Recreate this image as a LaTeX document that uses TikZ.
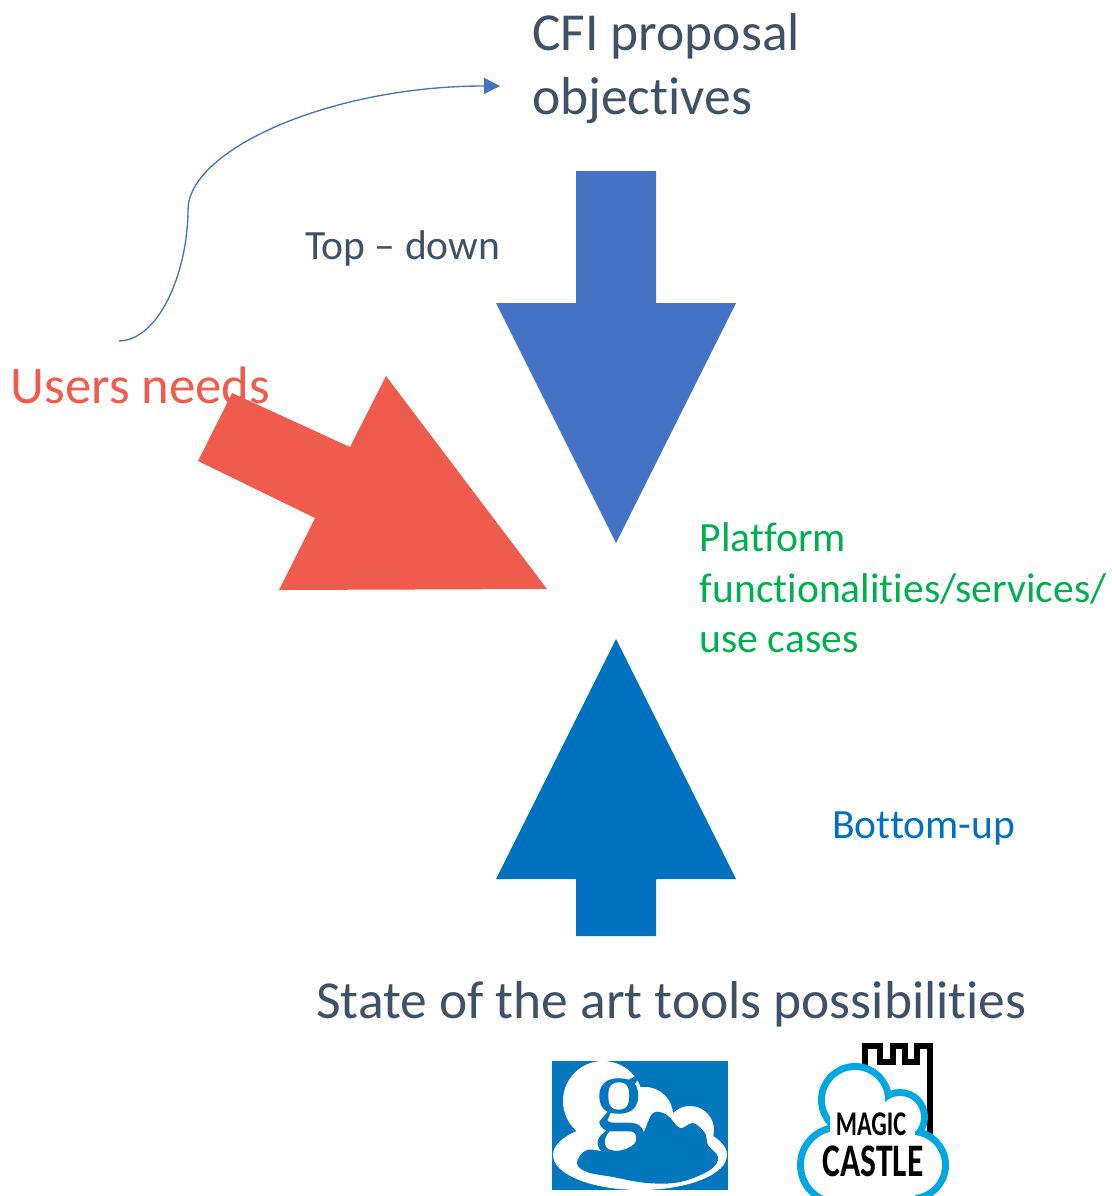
\documentclass[tikz,border=0pt]{standalone}
\usepackage{fontspec}
\setmainfont{Carlito}[Ligatures=CommonOff]
\newfontfamily\gfont{Liberation Serif}
\usetikzlibrary{arrows.meta}
\definecolor{slate}{HTML}{3F5166}
\definecolor{topblue}{HTML}{4472C4}
\definecolor{lowblue}{HTML}{0070C0}
\definecolor{salmon}{HTML}{EF5B4C}
\definecolor{leaf}{HTML}{00B050}
\definecolor{globus}{HTML}{0277BD}
\definecolor{sky}{HTML}{00A7E1}
\begin{document}
\begin{tikzpicture}[x=0.75pt, y=-0.75pt,
    main/.style = {inner sep=0pt, anchor=west, align=left, text=slate},
    big/.style = {font=\fontsize{40.1}{48}\selectfont},
    mid/.style = {font=\fontsize{31.2}{38}\selectfont}]
    \useasboundingbox (0,0) rectangle (1112,1196);
    \node[main, big] (cfi) at (532,69) {CFI proposal\\objectives};
    \node[main, mid] (top) at (305,248) {Top -- down};
    \node[main, big, text=salmon, font=\fontsize{39.6}{48}\selectfont] (users) at (10.5,385) {Users needs};
    \node[main, mid, text=leaf] (platform) at (699.5,588) {Platform\\functionalities/services/\\use cases};
    \node[main, mid, text=lowblue] (bottom) at (832,828) {Bottom-up};
    \node[main, big] (state) at (316,1004) {State of the art tools possibilities};
    % block arrows
    \fill[topblue] (576,171) -- (656,171) -- (656,303) -- (736,303) -- (616,543) -- (496,303) -- (576,303) -- cycle;
    \fill[lowblue] (576,936) -- (656,936) -- (656,879) -- (736,879) -- (616,639) -- (496,879) -- (576,879) -- cycle;
    \fill[salmon] (232,393) -- (350,447) -- (386,376) -- (547,589) -- (279,590) -- (315,518) -- (198,461) -- cycle;
    % curved connector
    \coordinate (a) at (119,341);
    \coordinate (b) at (188,210);
    \coordinate (c) at (500,86);
    \draw[topblue, line width=1pt, -{Triangle[length=12pt, width=12pt]}] (a) .. controls (160,340) and (188,270) .. (b) .. controls (188,150) and (330,86) .. (c);
    % globus logo
    \fill[globus] (552,1061) rectangle (728,1190);
    \begin{scope}
        \clip (552,1061) rectangle (728,1190);
        \fill[white] (603,1101) circle (40) (645,1115) circle (28) (690,1130) circle (24) (640,1155) ellipse (87 and 35);
        \fill[globus] plot[smooth cycle, tension=0.6] coordinates {(577,1163) (587,1150) (610,1152) (630,1147) (643,1133) (653,1113) (667,1115) (680,1128) (693,1123) (705,1133) (708,1145) (718,1157) (710,1170) (680,1182) (647,1183) (613,1177) (587,1172)};
    \end{scope}
    \node[inner sep=0pt, text=globus, font=\gfont\fontsize{84}{84}\selectfont, xscale=0.95] (g) at (620,1115) {g};
    % magic castle logo
    \draw[black, line width=4pt] (865,1075) -- (865,1046) -- (880,1046) -- (880,1062) -- (893,1062) -- (893,1046) -- (905,1046) -- (905,1062) -- (917,1062) -- (917,1046) -- (930,1046) -- (930,1135);
    \begin{scope}
        \clip (790,1040) rectangle (960,1196);
        \foreach \cx/\cy/\r in {855/1100/30, 900/1117/21, 912/1165/30, 838/1165/34}
            \draw[sky, line width=10.5pt] (\cx,\cy) circle (\r);
        \foreach \cx/\cy/\r in {855/1100/30, 900/1117/21, 912/1165/30, 838/1165/34}
            \fill[white] (\cx,\cy) circle (\r);
        \fill[white] (830,1110) rectangle (915,1200);
    \end{scope}
    \node[inner sep=0pt, font=\fontsize{26}{26}\bfseries\selectfont, xscale=0.7] (magic) at (871,1124) {MAGIC};
    \node[inner sep=0pt, font=\fontsize{35}{35}\bfseries\selectfont, xscale=0.72] (castle) at (873,1161) {CASTLE};
\end{tikzpicture}
\end{document}
